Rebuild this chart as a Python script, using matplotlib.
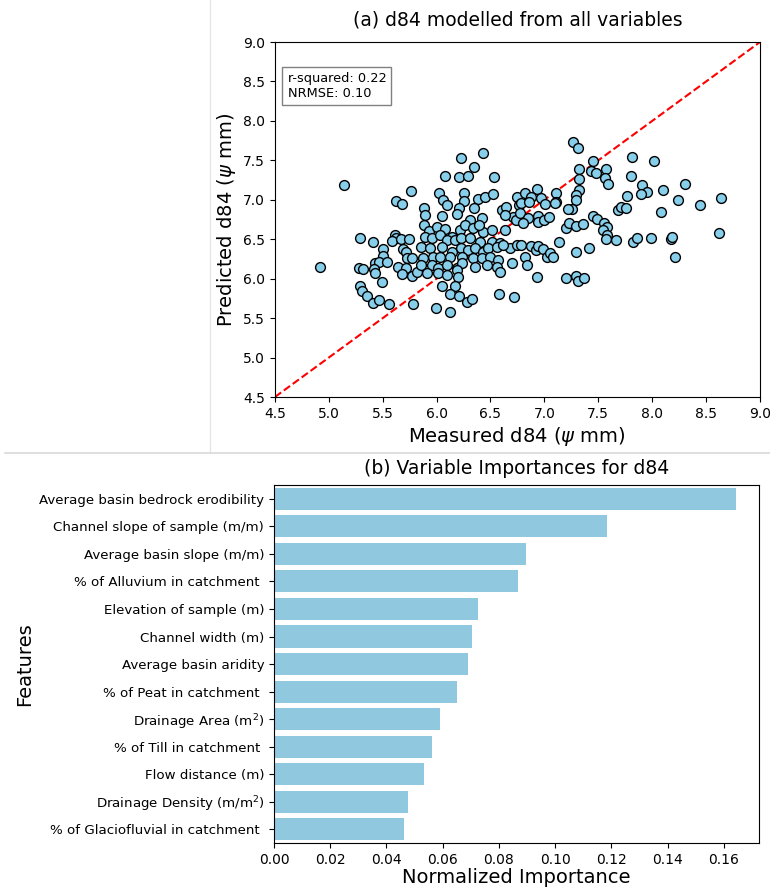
import matplotlib
matplotlib.use("Agg")
import matplotlib.pyplot as plt
from matplotlib.lines import Line2D
import numpy as np

# (a) measured vs predicted d84 (psi mm)
measured = [
    5.14, 5.76, 5.62, 5.68, 5.29, 5.41, 5.50, 5.61, 5.62, 5.59, 5.67, 5.74, 5.69, 5.72, 5.50, 5.73,
    5.77, 4.92, 5.28, 5.32, 5.43, 5.47, 5.54, 5.42, 5.43, 5.64, 5.72, 5.68, 5.77, 5.82, 5.49, 5.29,
    5.31, 5.35, 5.41, 5.47, 5.56, 5.78,
    6.23, 6.43, 6.35, 6.08, 6.21, 6.29, 6.53, 6.02, 6.06, 6.10, 6.25, 6.25, 6.38, 6.45, 6.52, 6.21,
    6.19, 6.35, 5.88, 5.89, 6.05, 6.61, 6.64, 6.71, 6.63, 6.75, 6.76, 6.31, 6.42,
    5.88, 5.93, 6.00, 6.08, 6.14, 6.22, 6.26, 6.34, 6.43, 6.51, 6.63, 6.74, 6.39,
    5.89, 5.96, 6.03, 6.10, 6.17, 6.23, 6.31, 6.40, 6.51, 6.59, 6.68, 6.75,
    5.86, 5.94, 6.05, 6.14, 6.23, 6.29, 6.36, 6.43, 6.48, 6.56, 6.62,
    5.87, 5.97, 6.03, 6.12, 6.24, 6.34, 6.42, 6.50, 6.57,
    5.86, 5.96, 6.01, 6.10, 6.19, 6.24, 6.36, 6.47, 6.56, 6.70, 5.91, 6.01, 6.10, 6.19, 6.20, 6.59,
    6.05, 6.17, 6.12, 6.21, 6.28, 6.33, 6.58, 6.72, 5.99, 6.12,
    7.27, 7.31, 7.45, 7.43, 7.48, 7.57, 7.56, 7.59, 7.32, 7.32, 7.11, 7.11, 7.32, 7.29, 7.29, 7.26,
    7.22, 6.93, 6.82, 6.88, 6.97, 7.01, 6.78, 6.86, 7.10, 6.77, 6.85, 6.94, 6.94, 7.00, 7.04, 6.80,
    7.20, 7.23, 7.29, 7.36, 7.45, 7.49, 7.55, 7.58, 7.54, 7.58, 7.57, 7.66, 7.14, 6.78, 6.88, 6.92,
    6.94, 6.99, 7.02, 7.05, 7.08, 6.82, 6.84, 7.29, 7.41, 6.93, 7.20, 7.29, 7.31, 7.37, 7.68, 7.71,
    7.76,
    7.81, 8.02, 7.80, 7.91, 7.95, 7.90, 8.10, 8.30, 7.77, 8.24, 8.44, 8.64, 8.08, 7.82, 7.86, 7.99,
    8.17, 8.18, 8.62, 8.21,
]
predicted = [
    7.19, 7.11, 6.98, 6.95, 6.52, 6.47, 6.38, 6.55, 6.52, 6.48, 6.50, 6.50, 6.38, 6.34, 6.29, 6.26,
    6.26, 6.15, 6.14, 6.12, 6.20, 6.21, 6.21, 6.12, 6.07, 6.15, 6.14, 6.06, 6.03, 6.08, 5.96, 5.91,
    5.84, 5.78, 5.69, 5.73, 5.68, 5.68,
    7.53, 7.59, 7.42, 7.30, 7.29, 7.30, 7.29, 7.09, 7.00, 6.93, 7.09, 6.99, 7.01, 7.04, 7.07, 6.90,
    6.82, 6.90, 6.90, 6.81, 6.79, 6.87, 6.91, 6.78, 6.81, 7.04, 6.93, 6.74, 6.77,
    6.68, 6.60, 6.66, 6.63, 6.53, 6.62, 6.68, 6.64, 6.59, 6.62, 6.62, 6.74, 6.68,
    6.53, 6.52, 6.55, 6.49, 6.49, 6.52, 6.52, 6.47, 6.47, 6.45, 6.39, 6.43,
    6.40, 6.39, 6.40, 6.34, 6.39, 6.36, 6.39, 6.34, 6.39, 6.40, 6.43,
    6.26, 6.27, 6.27, 6.27, 6.27, 6.26, 6.26, 6.27, 6.24,
    6.17, 6.17, 6.14, 6.17, 6.14, 6.20, 6.15, 6.17, 6.15, 6.20, 6.07, 6.07, 6.05, 6.11, 6.02, 6.08,
    5.91, 5.91, 5.81, 5.78, 5.70, 5.74, 5.81, 5.77, 5.63, 5.58,
    7.73, 7.66, 7.49, 7.37, 7.34, 7.39, 7.28, 7.20, 7.39, 7.26, 7.09, 6.97, 7.12, 7.06, 7.00, 6.88,
    6.88, 7.14, 7.09, 7.04, 7.02, 6.95, 6.96, 6.97, 6.96, 6.83, 6.77, 6.79, 6.72, 6.74, 6.78, 6.71,
    6.64, 6.71, 6.67, 6.69, 6.79, 6.76, 6.71, 6.66, 6.62, 6.55, 6.50, 6.49, 6.47, 6.43, 6.41, 6.36,
    6.41, 6.38, 6.27, 6.33, 6.27, 6.27, 6.17, 6.34, 6.39, 6.02, 6.01, 6.03, 5.97, 6.01, 6.87, 6.91,
    6.90,
    7.54, 7.49, 7.30, 7.19, 7.10, 7.07, 7.12, 7.20, 7.05, 7.00, 6.93, 7.02, 6.85, 6.47, 6.52, 6.52,
    6.50, 6.53, 6.58, 6.27,
]

# (b) variable importances
features = [
    "Average basin bedrock erodibility",
    "Channel slope of sample (m/m)",
    "Average basin slope (m/m)",
    "% of Alluvium in catchment ",
    "Elevation of sample (m)",
    "Channel width (m)",
    "Average basin aridity",
    "% of Peat in catchment ",
    "Drainage Area (m$^2$)",
    "% of Till in catchment ",
    "Flow distance (m)",
    "Drainage Density (m/m$^2$)",
    "% of Glaciofluvial in catchment ",
]
importances = [0.1643, 0.1185, 0.0896, 0.0868, 0.0727, 0.0706, 0.0691, 0.0652,
               0.0592, 0.0563, 0.0533, 0.0475, 0.0462]

fig = plt.figure(figsize=(7.7, 8.89), dpi=100)

# scatter panel
ax1 = fig.add_axes([0.357, 0.5534, 0.630, 0.3993])
ax1.plot([4.5, 9.0], [4.5, 9.0], color='red', linestyle='--', linewidth=1.5, zorder=1)
ax1.scatter(measured, predicted, s=50, color='skyblue', edgecolor='black',
            linewidth=1.0, zorder=2)
ax1.set_xlim(4.5, 9.0)
ax1.set_ylim(4.5, 9.0)
ax1.set_xticks(np.arange(4.5, 9.01, 0.5))
ax1.set_yticks(np.arange(4.5, 9.01, 0.5))
ax1.tick_params(labelsize=10)
ax1.set_xlabel(r"Measured d84 ($\psi$ mm)", fontsize=14, labelpad=3)
ax1.set_ylabel(r"Predicted d84 ($\psi$ mm)", fontsize=14)
ax1.set_title("(a) d84 modelled from all variables", fontsize=13.5, pad=12)
ax1.text(0.026, 0.915, "r-squared: 0.22\nNRMSE: 0.10", transform=ax1.transAxes,
         fontsize=9.3, va='top', ha='left', linespacing=1.2,
         bbox=dict(boxstyle='square,pad=0.4', facecolor='white', edgecolor='gray'))

# importance panel
ax2 = fig.add_axes([0.3558, 0.0517, 0.630, 0.4027])
ypos = np.arange(len(features))
ax2.barh(ypos, importances, height=0.8, color='#8fc8df')
ax2.set_yticks(ypos)
ax2.set_yticklabels(features, fontsize=9.6)
ax2.set_ylim(len(features) - 0.5, -0.5)
ax2.set_xlim(0, max(importances) * 1.05)
ax2.set_xticks(np.arange(0, 0.161, 0.02))
ax2.tick_params(axis='x', labelsize=10)
ax2.set_xlabel("Normalized Importance", fontsize=14, labelpad=1)
ax2.set_ylabel("Features", fontsize=14)
ax2.set_title("(b) Variable Importances for d84", fontsize=13.5, pad=8)

# faint borders from the composed panels
fig.add_artist(Line2D([210 / 770, 210 / 770], [1.0, 1 - 453 / 889],
                      transform=fig.transFigure, color='#e6e6e6', linewidth=1))
fig.add_artist(Line2D([5 / 770, 1.0], [1 - 453 / 889, 1 - 453 / 889],
                      transform=fig.transFigure, color='#d9d9d9', linewidth=1.2))

fig.savefig("out.png", dpi=100)
